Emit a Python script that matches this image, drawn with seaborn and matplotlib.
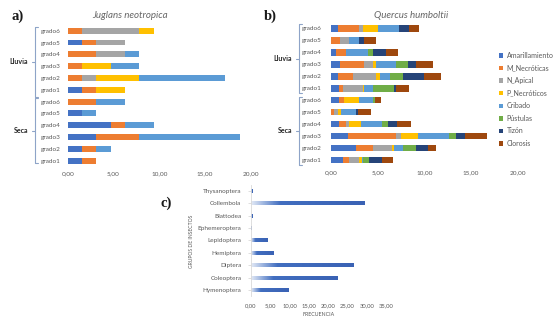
import numpy as np
import pandas as pd
import matplotlib
matplotlib.use("Agg")
import matplotlib.pyplot as plt
from matplotlib.patches import Patch
from matplotlib.lines import Line2D
from matplotlib.ticker import FuncFormatter
from matplotlib.colors import to_rgb
import seaborn as sns

# ==============================================================================
# DATOS
# ==============================================================================
grados = ['grado6', 'grado5', 'grado4', 'grado3', 'grado2', 'grado1']
epocas = ['Lluvia', 'Seca']
sintomas = ['Amarillamiento', 'M_Necróticas', 'N_Apical', 'P_Necróticos',
            'Cribado', 'Pústulas', 'Tizón', 'Clorosis']
colores = ['#4472C4', '#ED7D31', '#A5A5A5', '#FFC000',
           '#5B9BD5', '#70AD47', '#264478', '#9E480E']

# a) Juglans neotropica  (filas: Lluvia grado6..grado1, Seca grado6..grado1)
jug_amarillamiento = [0, 1.56, 0, 0, 0, 1.56, 0, 1.56, 4.69, 3.13, 1.56, 1.56]
jug_m_necroticas = [1.56, 1.56, 3.13, 1.56, 1.56, 1.56, 3.13, 0, 1.56, 4.69, 1.56, 1.56]
jug_n_apical = [6.25, 3.13, 3.13, 0, 1.56, 0, 0, 0, 0, 0, 0, 0]
jug_p_necroticos = [1.56, 0, 0, 3.13, 4.69, 3.13, 0, 0, 0, 0, 0, 0]
jug_cribado = [0, 0, 1.56, 3.13, 9.38, 0, 3.13, 1.56, 3.13, 10.94, 1.56, 0]
jug_pustulas = [0] * 12
jug_tizon = [0] * 12
jug_clorosis = [0] * 12

# b) Quercus humboltii
que_amarillamiento = [0.79, 0, 0.54, 0.96, 0.79, 0.86, 0.86, 0, 0.86, 1.79, 2.68, 1.25]
que_m_necroticas = [2.25, 0.96, 1.07, 2.60, 1.54, 0.39, 0.57, 0.32, 0.71, 5.18, 1.79, 0.68]
que_n_apical = [0.36, 0.96, 0, 0.89, 2.50, 2.14, 0, 0.39, 0.36, 0.54, 2.04, 1.11]
que_p_necroticos = [1.61, 0, 0, 0.36, 0.43, 0.18, 1.61, 0.36, 1.25, 1.79, 0.29, 0.25]
que_cribado = [2.32, 1.10, 2.39, 2.14, 1.07, 0.89, 1.50, 1.61, 2.32, 3.39, 0.96, 0.18]
que_pustulas = [0, 0, 0.46, 1.25, 1.43, 2.29, 0.18, 0, 0.57, 0.71, 1.32, 0.64]
que_tizon = [1.07, 0.50, 1.43, 0.89, 2.25, 0.21, 0, 0.25, 1.04, 0.96, 1.36, 1.39]
que_clorosis = [1.07, 1.29, 1.25, 1.79, 1.79, 1.43, 0.61, 1.36, 1.46, 2.32, 0.79, 1.11]

# c) Grupos de insectos
grupos = ['Thysanoptera', 'Collembola', 'Blattodea', 'Ephemeroptera', 'Lepidoptera',
          'Hemiptera', 'Diptera', 'Coleoptera', 'Hymenoptera']
frecuencias = [0.5, 29.5, 0.5, 0.2, 4.4, 5.8, 26.5, 22.3, 9.8]

# ==============================================================================
# ESTILO
# ==============================================================================
sns.set_theme(style='white')
plt.rcParams['font.family'] = ['Lato', 'DejaVu Sans']
gris = '#595959'
W, H = 560, 324

fig = plt.figure(figsize=(W / 100, H / 100), dpi=100)


def caja(x0, x1, y_top, y_bot):
    # posicion de ejes a partir de pixeles
    return [x0 / W, 1 - y_bot / H, (x1 - x0) / W, (y_bot - y_top) / H]


def fx(x):
    return x / W


def fy(y):
    return 1 - y / H


coma = FuncFormatter(lambda v, _: f'{v:.2f}'.replace('.', ','))


def barras_apiladas(ax, series, ancho):
    filas = [f'{e} {g}' for e in epocas for g in grados]
    tabla = pd.DataFrame(dict(zip(sintomas, series)))
    acum = tabla.cumsum(axis=1)
    # se dibuja el acumulado de atras hacia adelante
    for i in range(len(sintomas) - 1, -1, -1):
        df = pd.DataFrame({'fila': filas, 'valor': acum.iloc[:, i].values})
        sns.barplot(data=df, y='fila', x='valor', order=filas, color=colores[i],
                    width=ancho, saturation=1, errorbar=None, orient='h',
                    linewidth=0, ax=ax)
    ax.set_xlim(0, 20)
    ax.set_ylim(11.5, -0.5)
    ax.set_xticks([0, 5, 10, 15, 20])
    ax.xaxis.set_major_formatter(coma)
    ax.set_yticks(range(12))
    ax.set_yticklabels(grados * 2)
    ax.set_xlabel('')
    ax.set_ylabel('')
    sns.despine(ax=ax, left=True, bottom=True)
    ax.tick_params(length=0, labelsize=4.6, colors=gris)


def corchete(x, y0, y1, xm, texto, xt):
    c = '#8EA4C8'
    fig.add_artist(Line2D([fx(x + 2.5), fx(x), fx(x), fx(x + 2.5)],
                          [fy(y0), fy(y0), fy(y1), fy(y1)], color=c, lw=0.8))
    ym = (y0 + y1) / 2
    fig.add_artist(Line2D([fx(x), fx(xm)], [fy(ym), fy(ym)], color=c, lw=0.8))
    fig.text(fx(xt), fy(ym), texto, ha='right', va='center', fontsize=5,
             fontweight='bold', color='#262626')


# ==============================================================================
# a) Juglans neotropica
# ==============================================================================
ax_a = fig.add_axes(caja(67.7, 251, 24.8, 166.6))
barras_apiladas(ax_a, [jug_amarillamiento, jug_m_necroticas, jug_n_apical, jug_p_necroticos,
                       jug_cribado, jug_pustulas, jug_tizon, jug_clorosis], 0.5)
ax_a.tick_params(axis='y', pad=5)
ax_a.tick_params(axis='x', pad=3)
fig.text(fx(130), fy(15), 'Juglans neotropica', ha='center', va='center',
         fontsize=7, style='italic', color='#666666')
fig.text(fx(18), fy(16.7), 'a)', ha='center', va='center', fontsize=10.5,
         fontweight='bold', family='Liberation Serif', color='#1a1a1a')
corchete(35, 27.3, 96.7, 32, 'Lluvia', 28)
corchete(35, 98.3, 163.3, 32, 'Seca', 28)

# ==============================================================================
# b) Quercus humboltii
# ==============================================================================
ax_b = fig.add_axes(caja(331, 517.7, 22.3, 166))
barras_apiladas(ax_b, [que_amarillamiento, que_m_necroticas, que_n_apical, que_p_necroticos,
                       que_cribado, que_pustulas, que_tizon, que_clorosis], 0.56)
ax_b.tick_params(axis='y', pad=7)
ax_b.tick_params(axis='x', pad=3)
fig.text(fx(411), fy(15), 'Quercus humboltii', ha='center', va='center',
         fontsize=7, style='italic', color='#666666')
fig.text(fx(270), fy(16.7), 'b)', ha='center', va='center', fontsize=10.5,
         fontweight='bold', family='Liberation Serif', color='#1a1a1a')
corchete(299, 24, 93.3, 296, 'Lluvia', 292)
corchete(299, 96.7, 165, 296, 'Seca', 292)

manejadores = [Patch(facecolor=c, edgecolor='none', label=s) for s, c in zip(sintomas, colores)]
fig.legend(handles=manejadores, loc='upper left', bbox_to_anchor=(fx(499), fy(52)),
           frameon=False, fontsize=5, labelcolor=gris, handlelength=0.6,
           handleheight=0.6, handletextpad=0.5, labelspacing=0.8,
           borderpad=0, borderaxespad=0)

# ==============================================================================
# c) Grupos de insectos
# ==============================================================================
ax_c = fig.add_axes(caja(251, 386, 184.5, 296.2))
df_c = pd.DataFrame({'grupo': grupos, 'frecuencia': frecuencias})
sns.barplot(data=df_c, y='grupo', x='frecuencia', order=grupos, color='#4472C4',
            width=0.32, saturation=1, errorbar=None, orient='h', linewidth=0, ax=ax_c)

# relleno degradado (blanco -> azul) como en el original
base = np.array(to_rgb('#4472C4'))
oscuro = np.array(to_rgb('#3A62B4'))
n = 256
t = np.linspace(0, 1, n)
for p in list(ax_c.patches):
    x0, y0, w, h = p.get_x(), p.get_y(), p.get_width(), p.get_height()
    img = np.zeros((1, n, 4))
    img[0, :, :3] = base[None, :] * (1 - t[:, None]) + oscuro[None, :] * t[:, None]
    img[0, :, 3] = np.clip(0.15 + t / 0.3, 0, 1)
    ax_c.imshow(img, extent=(x0, x0 + w, y0 + h, y0), aspect='auto',
                interpolation='bilinear', zorder=2)
    p.set_visible(False)

ax_c.set_xlim(0, 35)
ax_c.set_ylim(8.5, -0.5)
ax_c.set_xticks(range(0, 40, 5))
ax_c.xaxis.set_major_formatter(coma)
ax_c.set_xlabel('')
ax_c.set_ylabel('')
sns.despine(ax=ax_c, bottom=True)
ax_c.spines['left'].set_color('#D9D9D9')
ax_c.spines['left'].set_linewidth(0.6)
ax_c.tick_params(axis='y', length=2, width=0.6, color='#D9D9D9', pad=5,
                 labelsize=4.6, labelcolor=gris, left=True)
ax_c.tick_params(axis='x', length=0, pad=5, labelsize=4.2, labelcolor=gris)
fig.text(fx(318.5), fy(315), 'FRECUENCIA', ha='center', va='center',
         fontsize=3.8, color=gris)
fig.text(fx(191.7), fy(241.7), 'GRUPOS DE INSECTOS', ha='center', va='center',
         rotation=90, fontsize=3.6, color=gris)
fig.text(fx(166), fy(203), 'c)', ha='center', va='center', fontsize=10.5,
         fontweight='bold', family='Liberation Serif', color='#1a1a1a')

fig.savefig('out.png', dpi=100)
